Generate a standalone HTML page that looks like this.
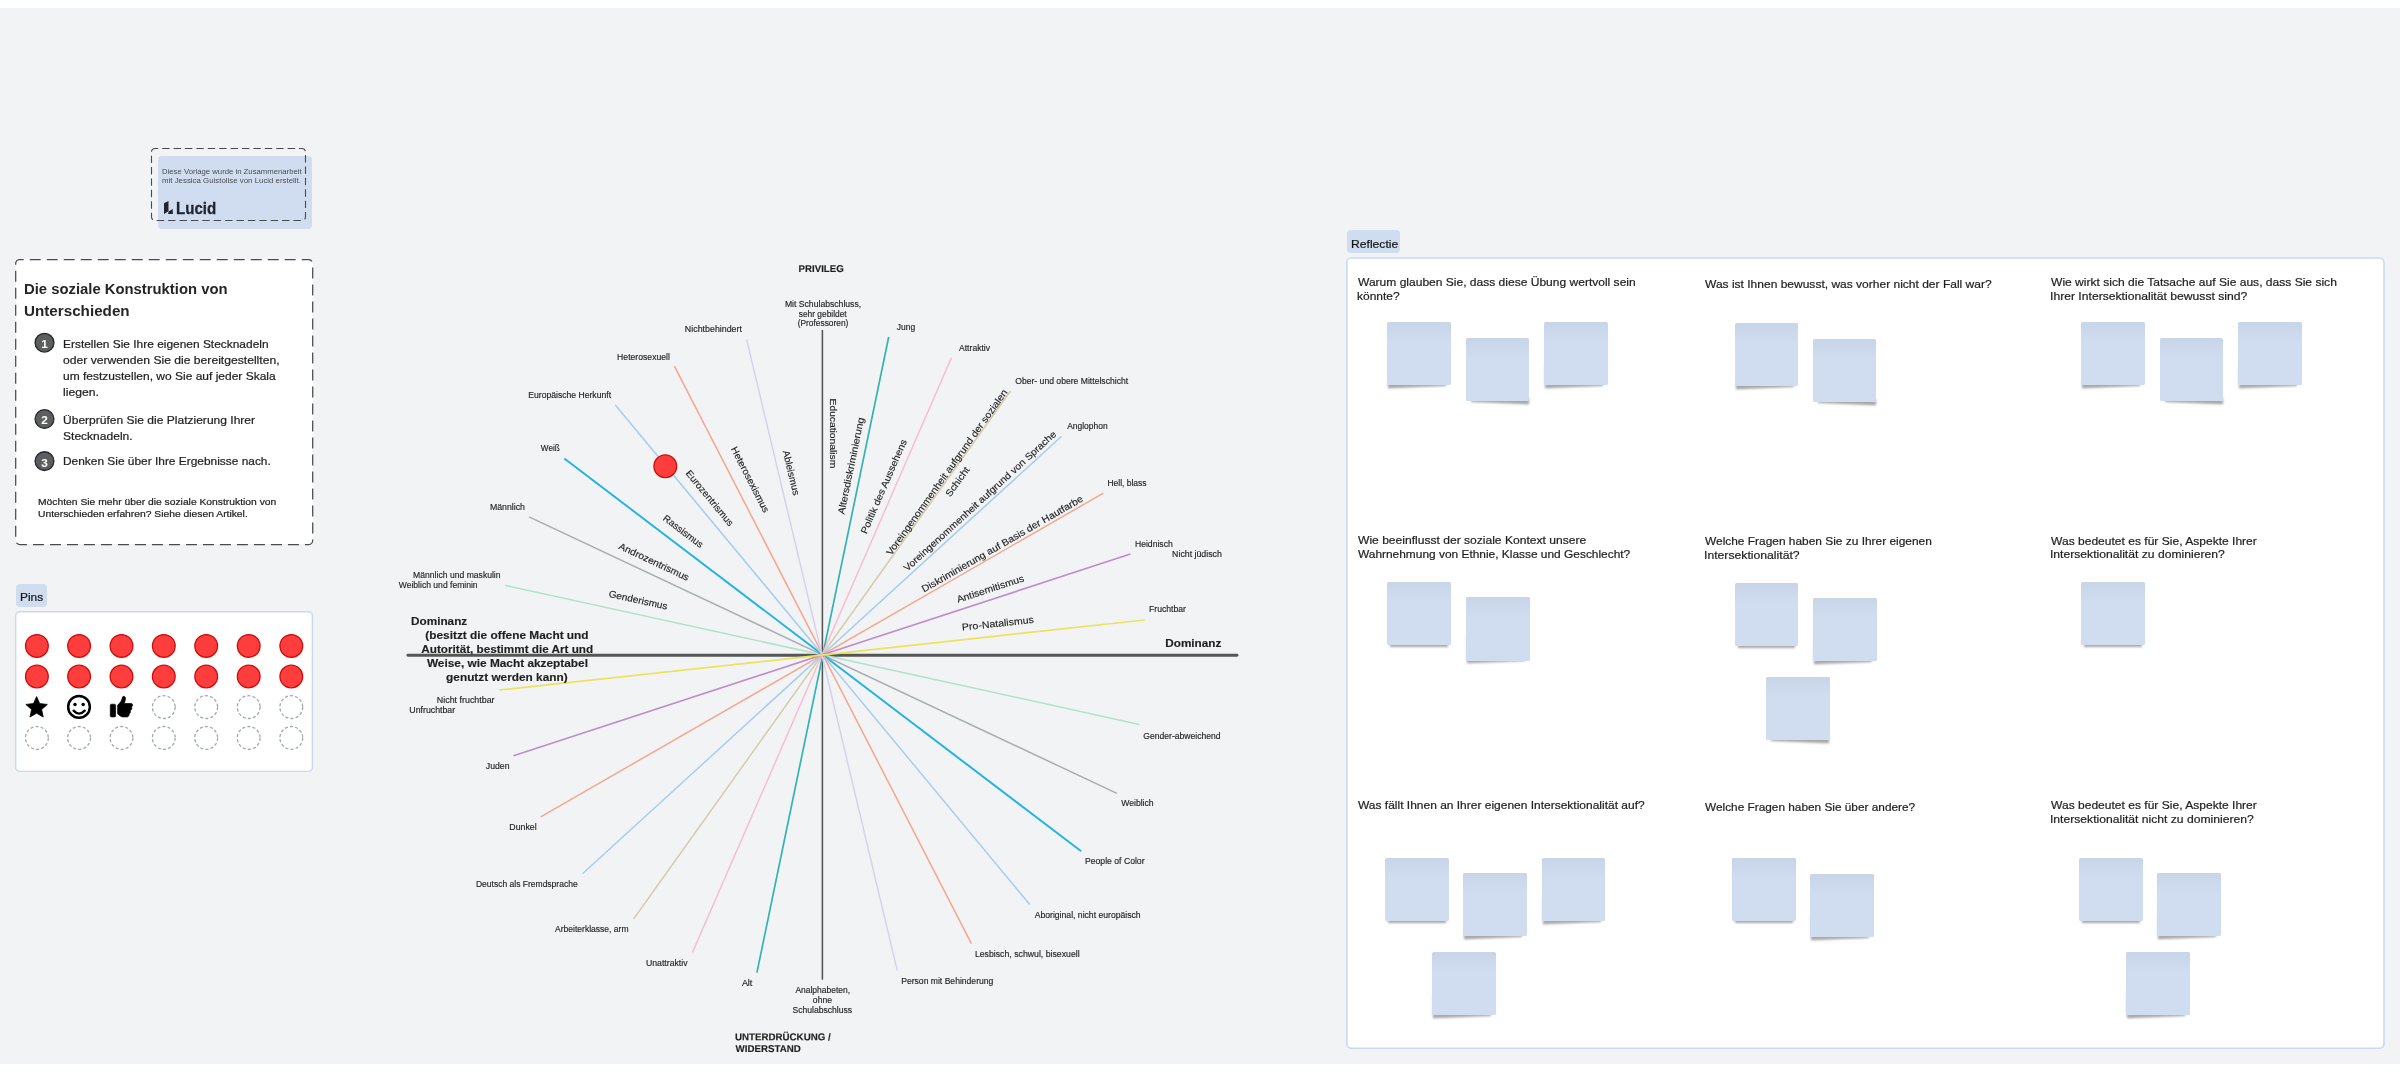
<!DOCTYPE html>
<html lang="de"><head><meta charset="utf-8"><title>Die soziale Konstruktion von Unterschieden</title>
<style>
html,body{margin:0;padding:0;background:#fff;}
body{width:2400px;height:1072px;overflow:hidden;position:relative;font-family:"Liberation Sans",sans-serif;}
#wrap{position:absolute;left:0;top:0;width:2400px;height:1072px;will-change:transform;}
#canvas{position:absolute;left:0;top:8px;width:2400px;height:1056px;background:#f2f3f5;}
.t{position:absolute;white-space:nowrap;line-height:normal;transform-origin:0 0;display:block;-webkit-text-stroke:0.22px currentColor;}
.abs{position:absolute;}
.note{position:absolute;width:63.6px;height:63.3px;}
.note i{position:absolute;left:0;top:0;width:100%;height:100%;background:linear-gradient(#c8d5e8 0%,#d0dcf0 32%,#d0dcf0 100%);border-radius:1.5px;display:block;}
.note b{position:absolute;display:block;left:1.5px;right:1.5px;bottom:-0.6px;height:6px;background:rgba(0,0,0,.34);filter:blur(1.2px);}
.note.l b{transform-origin:100% 100%;transform:rotate(-2.4deg);right:5px;left:1px;}
.note.r b{transform-origin:0 100%;transform:rotate(2.4deg);left:5px;right:1px;}
.note.c b{left:3px;right:3px;bottom:-2px;}
.note.s b{transform-origin:100% 100%;transform:rotate(-2.3deg);right:5px;left:0.9px;height:30px;background:linear-gradient(to top,rgba(0,0,0,.36) 0,rgba(0,0,0,.3) 5px,rgba(0,0,0,0) 100%);}
svg{position:absolute;left:0;top:0;overflow:visible;}
svg text{font-family:"Liberation Sans",sans-serif;fill:#1f1f1f;stroke:#1f1f1f;stroke-width:.15px;}
</style></head><body>
<div id="wrap"><div id="canvas"></div>

<div class="abs" style="left:158.2px;top:156px;width:154px;height:72.6px;background:#d0dcf0;border-radius:4px;"></div>
<span class="t" style="left:162.08px;top:168.00px;font-size:6.9px;font-weight:400;transform:scaleX(1.1215);color:#494c53;-webkit-text-stroke:0;">Diese Vorlage wurde in Zusammenarbeit</span>
<span class="t" style="left:162.19px;top:177.00px;font-size:6.9px;font-weight:400;transform:scaleX(1.1411);color:#494c53;-webkit-text-stroke:0;">mit Jessica Guistolise von Lucid erstellt.</span>
<span class="t" style="left:176.02px;top:199.00px;font-size:16.2px;font-weight:700;-webkit-text-stroke:0;transform:scaleX(0.9302);color:#1f2430;-webkit-text-stroke:0.3px #1f2430;">Lucid</span>
<div class="abs" style="left:15.7px;top:259.2px;width:297px;height:285px;background:#fff;border-radius:3px;"></div>
<span class="t" style="left:23.54px;top:281.00px;font-size:14.3px;font-weight:700;-webkit-text-stroke:0;transform:scaleX(1.0371);color:#252525;">Die soziale Konstruktion von</span>
<span class="t" style="left:23.59px;top:303.00px;font-size:14.3px;font-weight:700;-webkit-text-stroke:0;transform:scaleX(1.0636);color:#252525;">Unterschieden</span>
<span class="t" style="left:62.75px;top:338.00px;font-size:11.3px;font-weight:400;transform:scaleX(1.0558);color:#1f1f1f;">Erstellen Sie Ihre eigenen Stecknadeln</span>
<span class="t" style="left:63.21px;top:354.00px;font-size:11.3px;font-weight:400;transform:scaleX(1.0740);color:#1f1f1f;">oder verwenden Sie die bereitgestellten,</span>
<span class="t" style="left:62.92px;top:370.00px;font-size:11.3px;font-weight:400;transform:scaleX(1.0615);color:#1f1f1f;">um festzustellen, wo Sie auf jeder Skala</span>
<span class="t" style="left:62.91px;top:386.00px;font-size:11.3px;font-weight:400;transform:scaleX(1.0816);color:#1f1f1f;">liegen.</span>
<span class="t" style="left:62.80px;top:414.00px;font-size:11.3px;font-weight:400;transform:scaleX(1.0657);color:#1f1f1f;">Überprüfen Sie die Platzierung Ihrer</span>
<span class="t" style="left:63.16px;top:430.00px;font-size:11.3px;font-weight:400;transform:scaleX(1.0660);color:#1f1f1f;">Stecknadeln.</span>
<span class="t" style="left:62.75px;top:455.00px;font-size:11.3px;font-weight:400;transform:scaleX(1.0537);color:#1f1f1f;">Denken Sie über Ihre Ergebnisse nach.</span>
<span class="t" style="left:38.07px;top:496.00px;font-size:9.4px;font-weight:400;transform:scaleX(1.0990);color:#1f1f1f;">Möchten Sie mehr über die soziale Konstruktion von</span>
<span class="t" style="left:38.12px;top:508.00px;font-size:9.4px;font-weight:400;transform:scaleX(1.0997);color:#1f1f1f;">Unterschieden erfahren? Siehe diesen Artikel.</span>
<div class="abs" style="left:16px;top:584px;width:31px;height:23px;background:#d0dcf0;border-radius:4px;"></div>
<span class="t" style="left:20.25px;top:591.00px;font-size:11.4px;font-weight:400;transform:scaleX(1.0450);color:#151515;">Pins</span>
<div class="abs" style="left:16px;top:612px;width:296px;height:159px;background:#fff;border-radius:4px;"></div>
<div class="abs" style="left:1347px;top:230px;width:53px;height:23px;background:#d0dcf0;border-radius:4px;"></div>
<span class="t" style="left:1350.93px;top:237.00px;font-size:11.6px;font-weight:400;transform:scaleX(1.0464);color:#151515;">Reflectie</span>
<div class="abs" style="left:1347px;top:258px;width:1037px;height:790px;background:#fff;border-radius:4px;"></div>
<span class="t" style="left:1357.74px;top:275.00px;font-size:11.8px;font-weight:400;transform:scaleX(1.0196);color:#1f1f1f;">Warum glauben Sie, dass diese Übung wertvoll sein</span>
<span class="t" style="left:1357.02px;top:289.00px;font-size:11.8px;font-weight:400;transform:scaleX(1.0140);color:#1f1f1f;">könnte?</span>
<span class="t" style="left:1704.84px;top:277.00px;font-size:11.8px;font-weight:400;transform:scaleX(1.0182);color:#1f1f1f;">Was ist Ihnen bewusst, was vorher nicht der Fall war?</span>
<span class="t" style="left:2051.34px;top:275.00px;font-size:11.8px;font-weight:400;transform:scaleX(1.0218);color:#1f1f1f;">Wie wirkt sich die Tatsache auf Sie aus, dass Sie sich</span>
<span class="t" style="left:2050.31px;top:289.00px;font-size:11.8px;font-weight:400;transform:scaleX(1.0303);color:#1f1f1f;">Ihrer Intersektionalität bewusst sind?</span>
<span class="t" style="left:1357.74px;top:533.00px;font-size:11.8px;font-weight:400;transform:scaleX(1.0232);color:#1f1f1f;">Wie beeinflusst der soziale Kontext unsere</span>
<span class="t" style="left:1357.74px;top:547.00px;font-size:11.8px;font-weight:400;transform:scaleX(1.0092);color:#1f1f1f;">Wahrnehmung von Ethnie, Klasse und Geschlecht?</span>
<span class="t" style="left:1704.84px;top:534.00px;font-size:11.8px;font-weight:400;transform:scaleX(1.0095);color:#1f1f1f;">Welche Fragen haben Sie zu Ihrer eigenen</span>
<span class="t" style="left:1703.80px;top:548.00px;font-size:11.8px;font-weight:400;transform:scaleX(1.0343);color:#1f1f1f;">Intersektionalität?</span>
<span class="t" style="left:2051.34px;top:534.00px;font-size:11.8px;font-weight:400;transform:scaleX(1.0213);color:#1f1f1f;">Was bedeutet es für Sie, Aspekte Ihrer</span>
<span class="t" style="left:2050.31px;top:547.00px;font-size:11.8px;font-weight:400;transform:scaleX(1.0286);color:#1f1f1f;">Intersektionalität zu dominieren?</span>
<span class="t" style="left:1357.74px;top:798.00px;font-size:11.8px;font-weight:400;transform:scaleX(1.0157);color:#1f1f1f;">Was fällt Ihnen an Ihrer eigenen Intersektionalität auf?</span>
<span class="t" style="left:1704.84px;top:800.00px;font-size:11.8px;font-weight:400;transform:scaleX(1.0023);color:#1f1f1f;">Welche Fragen haben Sie über andere?</span>
<span class="t" style="left:2051.34px;top:798.00px;font-size:11.8px;font-weight:400;transform:scaleX(1.0213);color:#1f1f1f;">Was bedeutet es für Sie, Aspekte Ihrer</span>
<span class="t" style="left:2050.31px;top:812.00px;font-size:11.8px;font-weight:400;transform:scaleX(1.0291);color:#1f1f1f;">Intersektionalität nicht zu dominieren?</span>
<div class="note l" style="left:1387.2px;top:322.2px"><b></b><i></i></div>
<div class="note r" style="left:1465.9px;top:338.2px"><b></b><i></i></div>
<div class="note s" style="left:1544.1px;top:322.2px"><b></b><i></i></div>
<div class="note l" style="left:1734.9px;top:323px"><b></b><i></i></div>
<div class="note r" style="left:1812.9px;top:339.2px"><b></b><i></i></div>
<div class="note l" style="left:2081.1px;top:322.2px"><b></b><i></i></div>
<div class="note r" style="left:2159.9px;top:338.2px"><b></b><i></i></div>
<div class="note s" style="left:2238px;top:322.2px"><b></b><i></i></div>
<div class="note c" style="left:1387.1px;top:582.1px"><b></b><i></i></div>
<div class="note s" style="left:1466px;top:597.3px"><b></b><i></i></div>
<div class="note c" style="left:1734.8px;top:583px"><b></b><i></i></div>
<div class="note s" style="left:1813.1px;top:598.2px"><b></b><i></i></div>
<div class="note r" style="left:1766px;top:677px"><b></b><i></i></div>
<div class="note c" style="left:2081.1px;top:582.1px"><b></b><i></i></div>
<div class="note c" style="left:1385px;top:858px"><b></b><i></i></div>
<div class="note l" style="left:1463.3px;top:873.2px"><b></b><i></i></div>
<div class="note s" style="left:1541.9px;top:858px"><b></b><i></i></div>
<div class="note s" style="left:1432.1px;top:952px"><b></b><i></i></div>
<div class="note c" style="left:1732.1px;top:858.2px"><b></b><i></i></div>
<div class="note s" style="left:1810.1px;top:874px"><b></b><i></i></div>
<div class="note c" style="left:2079px;top:858px"><b></b><i></i></div>
<div class="note s" style="left:2157px;top:873.2px"><b></b><i></i></div>
<div class="note s" style="left:2126.1px;top:952px"><b></b><i></i></div>
<svg width="2400" height="1072" viewBox="0 0 2400 1072">
<rect x="15.7" y="611.7" width="296.7" height="159.65" rx="4" fill="none" stroke="#cbd9f0" stroke-width="1.45"/>
<rect x="1346.8" y="258.0" width="1037.2" height="790.3" rx="4.5" fill="none" stroke="#cbd9f0" stroke-width="1.6"/>
<rect x="151.5" y="148.5" width="154" height="72" rx="3.5" fill="none" stroke="#4a4a4a" stroke-width="1.1" stroke-dasharray="7.4 4" stroke-dashoffset="4.2"/>
<rect x="15.7" y="259.5" width="297" height="285" rx="4" fill="none" stroke="#4a4a4a" stroke-width="1.25" stroke-dasharray="11 6" stroke-dashoffset="7"/>
<path d="M164,203.3 L168.5,201.1 L168.5,211.3 L164,214 Z M168.6,211.6 L172.8,209.1 L172.8,214 L168.1,214 Z" fill="#1f2430"/>
<circle cx="44.5" cy="342.7" r="9.4" fill="#5e5e5e" stroke="#242938" stroke-width="1.35"/>
<text x="44.6" y="348.1" font-size="11.8" font-weight="700" text-anchor="middle" style="fill:#fff;stroke:none">1</text>
<circle cx="44.5" cy="419.0" r="9.4" fill="#5e5e5e" stroke="#242938" stroke-width="1.35"/>
<text x="44.6" y="424.4" font-size="11.8" font-weight="700" text-anchor="middle" style="fill:#fff;stroke:none">2</text>
<circle cx="44.5" cy="461.1" r="9.4" fill="#5e5e5e" stroke="#242938" stroke-width="1.35"/>
<text x="44.6" y="466.5" font-size="11.8" font-weight="700" text-anchor="middle" style="fill:#fff;stroke:none">3</text>
<circle cx="36.9" cy="645.9" r="11.35" fill="#fe3d3d" stroke="#d20a0a" stroke-width="1.3"/>
<circle cx="79.1" cy="645.9" r="11.35" fill="#fe3d3d" stroke="#d20a0a" stroke-width="1.3"/>
<circle cx="121.5" cy="645.9" r="11.35" fill="#fe3d3d" stroke="#d20a0a" stroke-width="1.3"/>
<circle cx="163.8" cy="645.9" r="11.35" fill="#fe3d3d" stroke="#d20a0a" stroke-width="1.3"/>
<circle cx="206.2" cy="645.9" r="11.35" fill="#fe3d3d" stroke="#d20a0a" stroke-width="1.3"/>
<circle cx="248.7" cy="645.9" r="11.35" fill="#fe3d3d" stroke="#d20a0a" stroke-width="1.3"/>
<circle cx="291.3" cy="645.9" r="11.35" fill="#fe3d3d" stroke="#d20a0a" stroke-width="1.3"/>
<circle cx="36.9" cy="676.5" r="11.35" fill="#fe3d3d" stroke="#d20a0a" stroke-width="1.3"/>
<circle cx="79.1" cy="676.5" r="11.35" fill="#fe3d3d" stroke="#d20a0a" stroke-width="1.3"/>
<circle cx="121.5" cy="676.5" r="11.35" fill="#fe3d3d" stroke="#d20a0a" stroke-width="1.3"/>
<circle cx="163.8" cy="676.5" r="11.35" fill="#fe3d3d" stroke="#d20a0a" stroke-width="1.3"/>
<circle cx="206.2" cy="676.5" r="11.35" fill="#fe3d3d" stroke="#d20a0a" stroke-width="1.3"/>
<circle cx="248.7" cy="676.5" r="11.35" fill="#fe3d3d" stroke="#d20a0a" stroke-width="1.3"/>
<circle cx="291.3" cy="676.5" r="11.35" fill="#fe3d3d" stroke="#d20a0a" stroke-width="1.3"/>
<circle cx="163.8" cy="707.1" r="11.4" fill="none" stroke="#a0aba8" stroke-width="1.3" stroke-dasharray="3.1 2.1"/>
<circle cx="206.2" cy="707.1" r="11.4" fill="none" stroke="#a0aba8" stroke-width="1.3" stroke-dasharray="3.1 2.1"/>
<circle cx="248.7" cy="707.1" r="11.4" fill="none" stroke="#a0aba8" stroke-width="1.3" stroke-dasharray="3.1 2.1"/>
<circle cx="291.3" cy="707.1" r="11.4" fill="none" stroke="#a0aba8" stroke-width="1.3" stroke-dasharray="3.1 2.1"/>
<circle cx="36.9" cy="737.9" r="11.4" fill="none" stroke="#a0aba8" stroke-width="1.3" stroke-dasharray="3.1 2.1"/>
<circle cx="79.1" cy="737.9" r="11.4" fill="none" stroke="#a0aba8" stroke-width="1.3" stroke-dasharray="3.1 2.1"/>
<circle cx="121.5" cy="737.9" r="11.4" fill="none" stroke="#a0aba8" stroke-width="1.3" stroke-dasharray="3.1 2.1"/>
<circle cx="163.8" cy="737.9" r="11.4" fill="none" stroke="#a0aba8" stroke-width="1.3" stroke-dasharray="3.1 2.1"/>
<circle cx="206.2" cy="737.9" r="11.4" fill="none" stroke="#a0aba8" stroke-width="1.3" stroke-dasharray="3.1 2.1"/>
<circle cx="248.7" cy="737.9" r="11.4" fill="none" stroke="#a0aba8" stroke-width="1.3" stroke-dasharray="3.1 2.1"/>
<circle cx="291.3" cy="737.9" r="11.4" fill="none" stroke="#a0aba8" stroke-width="1.3" stroke-dasharray="3.1 2.1"/>
<polygon points="36.60,696.60 39.72,703.61 47.35,704.41 41.64,709.54 43.24,717.04 36.60,713.20 29.96,717.04 31.56,709.54 25.85,704.41 33.48,703.61" fill="#000" stroke="#000" stroke-width="0.8" stroke-linejoin="round"/>
<g fill="none" stroke="#000" stroke-linecap="round"><circle cx="79" cy="706.9" r="10.85" stroke-width="2.5"/><path d="M73.6,710.6 Q79.1,716.6 84.7,710.6" stroke-width="2.3"/></g><circle cx="75" cy="704.5" r="1.75" fill="#000"/><circle cx="83.2" cy="704.5" r="1.75" fill="#000"/>
<g fill="#000" stroke="#000" stroke-width="0.7" stroke-linejoin="round"><rect x="110.3" y="704.2" width="5.3" height="12.7" rx="1.2"/><path d="M117.6,705.6 C118,704.4 118.9,703.7 119.8,703 C120.9,701.8 121.6,700.3 122,698.9 L122.4,697.3 C122.7,696.1 124.2,696.1 125,696.9 C125.7,697.7 125.6,698.9 125.4,699.6 L124.3,703.5 L131,703.5 C132.5,703.5 133,705.2 132.4,706 C132.1,706.6 131.6,706.9 131.4,707.1 C132.2,707.8 132,709.4 131,710 C130.6,710.4 130.4,710.8 130.3,711.1 C130.7,711.9 130.5,713 129.6,713.6 C129.3,713.9 129.2,714.2 129.1,714.5 C129,715.8 128.2,716.9 127,716.9 L122.3,716.9 C120.7,716.5 119.5,715.5 118.6,714.8 C117.9,714.2 117.6,713.8 117.6,713.2 Z"/></g>
<line x1="407.9" y1="655.2" x2="1237" y2="655.2" stroke="#565656" stroke-width="2.85" stroke-linecap="round"/>
<line x1="505.1" y1="585.3" x2="1139.4" y2="724.4" stroke="#b3e2cb" stroke-width="1.5"/>
<line x1="529.1" y1="516.9" x2="1116.9" y2="793.4" stroke="#a7afb1" stroke-width="1.55"/>
<line x1="564.3" y1="458.4" x2="1081.2" y2="851.3" stroke="#22b3e0" stroke-width="1.9"/>
<line x1="615.3" y1="405.0" x2="1029.7" y2="904.4" stroke="#a5cdf0" stroke-width="1.5"/>
<line x1="674.4" y1="366.2" x2="971.4" y2="943.6" stroke="#f7a58b" stroke-width="1.5"/>
<line x1="822.4" y1="330.0" x2="822.4" y2="979.7" stroke="#545454" stroke-width="1.55"/>
<line x1="888.7" y1="337.0" x2="756.9" y2="972.7" stroke="#33b5ac" stroke-width="1.7"/>
<line x1="951.5" y1="357.6" x2="692.5" y2="952.4" stroke="#f8bdd3" stroke-width="1.5"/>
<line x1="1010.4" y1="391.0" x2="633.5" y2="919.1" stroke="#d3cba8" stroke-width="1.5"/>
<line x1="1061.6" y1="436.3" x2="582.5" y2="873.8" stroke="#a5cdf0" stroke-width="1.5"/>
<line x1="1103.4" y1="493.1" x2="540.7" y2="816.9" stroke="#f7a58b" stroke-width="1.5"/>
<line x1="1130.4" y1="554.0" x2="513.5" y2="755.8" stroke="#bf8ccc" stroke-width="1.65"/>
<line x1="1144.6" y1="620.0" x2="499.4" y2="690.0" stroke="#ece25e" stroke-width="1.75"/>
<line x1="746.6" y1="339.4" x2="897.3" y2="970.7" stroke="#d6d3e9" stroke-width="1.5"/>
<circle cx="665.3" cy="466.3" r="11.35" fill="#fe3d3d" stroke="#d20a0a" stroke-width="1.3"/>
<text x="685.15" y="473.60" font-size="9.6" textLength="69.09" lengthAdjust="spacingAndGlyphs" transform="rotate(50.31 685.15 473.60)">Eurozentrismus</text>
<text x="730.67" y="448.81" font-size="9.6" textLength="72.49" lengthAdjust="spacingAndGlyphs" transform="rotate(62.78 730.67 448.81)">Heterosexismus</text>
<text x="782.72" y="451.24" font-size="9.6" textLength="45.79" lengthAdjust="spacingAndGlyphs" transform="rotate(76.57 782.72 451.24)">Ableismus</text>
<text x="662.33" y="519.47" font-size="9.6" textLength="47.59" lengthAdjust="spacingAndGlyphs" transform="rotate(37.24 662.33 519.47)">Rassismus</text>
<text x="617.98" y="548.43" font-size="9.6" textLength="76.53" lengthAdjust="spacingAndGlyphs" transform="rotate(25.19 617.98 548.43)">Androzentrismus</text>
<text x="608.19" y="596.76" font-size="9.6" textLength="59.98" lengthAdjust="spacingAndGlyphs" transform="rotate(12.37 608.19 596.76)">Genderismus</text>
<text x="829.80" y="398.58" font-size="9.6" textLength="69.65" lengthAdjust="spacingAndGlyphs" transform="rotate(90.00 829.80 398.58)">Educationalism</text>
<text x="844.15" y="514.78" font-size="9.6" textLength="98.70" lengthAdjust="spacingAndGlyphs" transform="rotate(281.71 844.15 514.78)">Altersdiskriminierung</text>
<text x="866.40" y="534.57" font-size="9.6" textLength="101.96" lengthAdjust="spacingAndGlyphs" transform="rotate(293.53 866.40 534.57)">Politik des Aussehens</text>
<text x="891.14" y="556.02" font-size="9.6" textLength="201.06" lengthAdjust="spacingAndGlyphs" transform="rotate(305.52 891.14 556.02)">Voreingenommenheit aufgrund der sozialen</text>
<text x="950.25" y="497.51" font-size="9.6" textLength="34.06" lengthAdjust="spacingAndGlyphs" transform="rotate(305.52 950.25 497.51)">Schicht</text>
<text x="907.22" y="571.75" font-size="9.6" textLength="202.68" lengthAdjust="spacingAndGlyphs" transform="rotate(317.60 907.22 571.75)">Voreingenommenheit aufgrund von Sprache</text>
<text x="924.08" y="592.60" font-size="9.6" textLength="184.29" lengthAdjust="spacingAndGlyphs" transform="rotate(330.08 924.08 592.60)">Diskriminierung auf Basis der Hautfarbe</text>
<text x="957.97" y="602.87" font-size="9.6" textLength="70.29" lengthAdjust="spacingAndGlyphs" transform="rotate(341.89 957.97 602.87)">Antisemitismus</text>
<text x="962.36" y="630.56" font-size="9.6" textLength="72.02" lengthAdjust="spacingAndGlyphs" transform="rotate(353.81 962.36 630.56)">Pro-Natalismus</text>
<text x="684.89" y="332.40" font-size="8.4" textLength="57.08" lengthAdjust="spacingAndGlyphs">Nichtbehindert</text>
<text x="617.11" y="359.60" font-size="8.4" textLength="52.79" lengthAdjust="spacingAndGlyphs">Heterosexuell</text>
<text x="528.31" y="398.40" font-size="8.4" textLength="82.74" lengthAdjust="spacingAndGlyphs">Europäische Herkunft</text>
<text x="540.86" y="451.10" font-size="8.4" textLength="18.87" lengthAdjust="spacingAndGlyphs">Weiß</text>
<text x="489.90" y="509.80" font-size="8.4" textLength="35.09" lengthAdjust="spacingAndGlyphs">Männlich</text>
<text x="413.11" y="577.80" font-size="8.4" textLength="87.47" lengthAdjust="spacingAndGlyphs">Männlich und maskulin</text>
<text x="398.76" y="587.80" font-size="8.4" textLength="78.89" lengthAdjust="spacingAndGlyphs">Weiblich und feminin</text>
<text x="436.89" y="702.80" font-size="8.4" textLength="57.67" lengthAdjust="spacingAndGlyphs">Nicht fruchtbar</text>
<text x="409.34" y="712.50" font-size="8.4" textLength="45.83" lengthAdjust="spacingAndGlyphs">Unfruchtbar</text>
<text x="485.87" y="768.80" font-size="8.4" textLength="23.69" lengthAdjust="spacingAndGlyphs">Juden</text>
<text x="509.30" y="829.70" font-size="8.4" textLength="27.30" lengthAdjust="spacingAndGlyphs">Dunkel</text>
<text x="475.92" y="886.50" font-size="8.4" textLength="101.76" lengthAdjust="spacingAndGlyphs">Deutsch als Fremdsprache</text>
<text x="555.00" y="931.90" font-size="8.4" textLength="73.55" lengthAdjust="spacingAndGlyphs">Arbeiterklasse, arm</text>
<text x="645.95" y="965.60" font-size="8.4" textLength="41.59" lengthAdjust="spacingAndGlyphs">Unattraktiv</text>
<text x="741.90" y="985.70" font-size="8.4" textLength="10.46" lengthAdjust="spacingAndGlyphs">Alt</text>
<text x="901.21" y="983.80" font-size="8.4" textLength="92.14" lengthAdjust="spacingAndGlyphs">Person mit Behinderung</text>
<text x="974.90" y="956.80" font-size="8.4" textLength="104.77" lengthAdjust="spacingAndGlyphs">Lesbisch, schwul, bisexuell</text>
<text x="1034.70" y="917.80" font-size="8.4" textLength="105.97" lengthAdjust="spacingAndGlyphs">Aboriginal, nicht europäisch</text>
<text x="1085.01" y="864.40" font-size="8.4" textLength="59.55" lengthAdjust="spacingAndGlyphs">People of Color</text>
<text x="1121.16" y="806.00" font-size="8.4" textLength="32.51" lengthAdjust="spacingAndGlyphs">Weiblich</text>
<text x="1143.27" y="738.70" font-size="8.4" textLength="77.30" lengthAdjust="spacingAndGlyphs">Gender-abweichend</text>
<text x="1149.01" y="612.30" font-size="8.4" textLength="36.86" lengthAdjust="spacingAndGlyphs">Fruchtbar</text>
<text x="1134.91" y="546.90" font-size="8.4" textLength="37.86" lengthAdjust="spacingAndGlyphs">Heidnisch</text>
<text x="1172.10" y="556.60" font-size="8.4" textLength="49.76" lengthAdjust="spacingAndGlyphs">Nicht jüdisch</text>
<text x="1107.42" y="486.30" font-size="8.4" textLength="39.16" lengthAdjust="spacingAndGlyphs">Hell, blass</text>
<text x="1067.20" y="429.00" font-size="8.4" textLength="40.47" lengthAdjust="spacingAndGlyphs">Anglophon</text>
<text x="1015.21" y="384.00" font-size="8.4" textLength="112.95" lengthAdjust="spacingAndGlyphs">Ober- und obere Mittelschicht</text>
<text x="959.00" y="351.00" font-size="8.4" textLength="31.06" lengthAdjust="spacingAndGlyphs">Attraktiv</text>
<text x="896.87" y="330.40" font-size="8.4" textLength="18.51" lengthAdjust="spacingAndGlyphs">Jung</text>
<text x="784.91" y="307.20" font-size="8.4" textLength="76.24" lengthAdjust="spacingAndGlyphs">Mit Schulabschluss,</text>
<text x="798.75" y="317.30" font-size="8.4" textLength="47.90" lengthAdjust="spacingAndGlyphs">sehr gebildet</text>
<text x="797.70" y="326.30" font-size="8.4" textLength="50.63" lengthAdjust="spacingAndGlyphs">(Professoren)</text>
<text x="795.40" y="993.40" font-size="8.4" textLength="54.72" lengthAdjust="spacingAndGlyphs">Analphabeten,</text>
<text x="812.86" y="1002.90" font-size="8.4" textLength="19.13" lengthAdjust="spacingAndGlyphs">ohne</text>
<text x="792.41" y="1012.90" font-size="8.4" textLength="59.67" lengthAdjust="spacingAndGlyphs">Schulabschluss</text>
<text x="798.57" y="271.90" font-size="9.9" textLength="45.13" lengthAdjust="spacingAndGlyphs" font-weight="700" stroke="none" transform="rotate(0.05 798.57 271.90)">PRIVILEG</text>
<text x="735.02" y="1040.30" font-size="9.9" textLength="95.66" lengthAdjust="spacingAndGlyphs" font-weight="700" stroke="none" transform="rotate(0.05 735.02 1040.30)">UNTERDRÜCKUNG /</text>
<text x="735.60" y="1051.90" font-size="9.9" textLength="65.12" lengthAdjust="spacingAndGlyphs" font-weight="700" stroke="none" transform="rotate(0.05 735.60 1051.90)">WIDERSTAND</text>
<text x="1165.24" y="647.20" font-size="10.6" textLength="56.15" lengthAdjust="spacingAndGlyphs" font-weight="700" stroke="none">Dominanz</text>
<text x="411.14" y="625.40" font-size="10.6" textLength="56.05" lengthAdjust="spacingAndGlyphs" font-weight="700" stroke="none">Dominanz</text>
<text x="425.31" y="639.40" font-size="10.6" textLength="163.30" lengthAdjust="spacingAndGlyphs" font-weight="700" stroke="none">(besitzt die offene Macht und</text>
<text x="421.31" y="653.10" font-size="10.6" textLength="171.86" lengthAdjust="spacingAndGlyphs" font-weight="700" stroke="none">Autorität, bestimmt die Art und</text>
<text x="426.90" y="667.00" font-size="10.6" textLength="161.10" lengthAdjust="spacingAndGlyphs" font-weight="700" stroke="none">Weise, wie Macht akzeptabel</text>
<text x="446.13" y="680.70" font-size="10.6" textLength="121.45" lengthAdjust="spacingAndGlyphs" font-weight="700" stroke="none">genutzt werden kann)</text>
</svg>
</div></body></html>
